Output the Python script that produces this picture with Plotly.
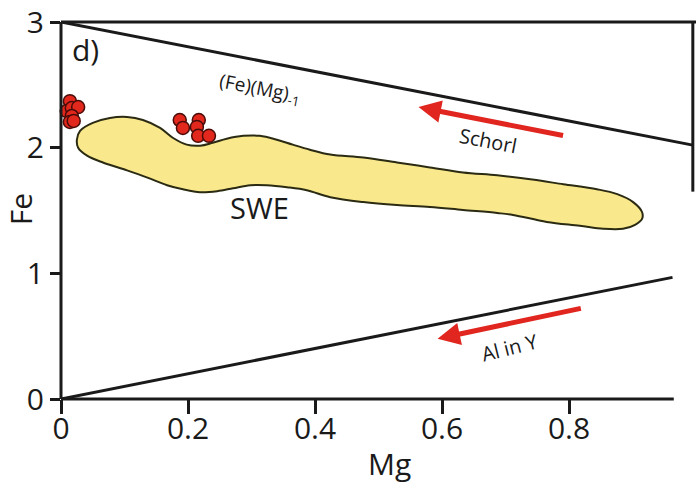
import plotly.graph_objects as go

# --- data ---
dots_mg = [0.014, 0.009, 0.017, 0.027, 0.017, 0.014, 0.020,
           0.187, 0.192, 0.217, 0.214, 0.216, 0.233]
dots_fe = [2.370, 2.291, 2.315, 2.323, 2.252, 2.205, 2.213,
           2.220, 2.157, 2.220, 2.165, 2.094, 2.094]

swe_mg = [0.025, 0.030, 0.050, 0.077, 0.104, 0.129, 0.156, 0.176, 0.198, 0.219,
          0.239, 0.261, 0.287, 0.313, 0.340, 0.365, 0.392, 0.424, 0.476, 0.529,
          0.581, 0.633, 0.687, 0.739, 0.791, 0.844, 0.876, 0.901, 0.915, 0.915,
          0.904, 0.885, 0.854, 0.817, 0.765, 0.712, 0.687, 0.633, 0.581, 0.529,
          0.476, 0.424, 0.387, 0.356, 0.324, 0.298, 0.271, 0.246, 0.219, 0.192,
          0.167, 0.135, 0.104, 0.066, 0.041, 0.027]
swe_fe = [2.063, 2.134, 2.197, 2.236, 2.244, 2.220, 2.157, 2.079, 2.024, 2.016,
          2.039, 2.071, 2.094, 2.094, 2.063, 2.024, 1.984, 1.945, 1.921, 1.882,
          1.843, 1.803, 1.780, 1.748, 1.709, 1.669, 1.630, 1.567, 1.488, 1.433,
          1.386, 1.354, 1.354, 1.378, 1.409, 1.465, 1.480, 1.504, 1.528, 1.543,
          1.567, 1.606, 1.661, 1.685, 1.701, 1.701, 1.677, 1.654, 1.646, 1.669,
          1.701, 1.764, 1.819, 1.882, 1.937, 2.000]

upper_line_mg = [0.0, 0.995]
upper_line_fe = [3.0, 2.02]
lower_line_mg = [0.0, 0.963]
lower_line_fe = [0.0, 0.968]

schorl_arrow = {"tail": (0.793, 2.094), "head": (0.563, 2.323)}
aliny_arrow = {"tail": (0.821, 0.724), "head": (0.593, 0.480)}

x_ticks = [0, 0.2, 0.4, 0.6, 0.8]
x_ticklabels = ["0", "0.2", "0.4", "0.6", "0.8"]
y_ticks = [0, 1, 2, 3]
y_ticklabels = ["0", "1", "2", "3"]

FONT = "Open Sans"
BLACK = "#1a1a1a"
RED = "#e0261e"

fig = go.Figure()

fig.add_trace(go.Scatter(
    x=swe_mg + [swe_mg[0]], y=swe_fe + [swe_fe[0]],
    mode="lines", fill="toself", fillcolor="#f9e98c",
    line=dict(color="#2b2a12", width=2, shape="spline", smoothing=1.0),
    hoverinfo="skip", showlegend=False))

fig.add_trace(go.Scatter(x=upper_line_mg, y=upper_line_fe, mode="lines",
                         line=dict(color=BLACK, width=3), showlegend=False))
fig.add_trace(go.Scatter(x=lower_line_mg, y=lower_line_fe, mode="lines",
                         line=dict(color=BLACK, width=3), showlegend=False))

fig.add_trace(go.Scatter(
    x=dots_mg, y=dots_fe, mode="markers",
    marker=dict(size=13, color="#e2271d", line=dict(color="#4a0c08", width=1.5)),
    showlegend=False, cliponaxis=False))

# frame
frame = dict(color=BLACK, width=3)
fig.add_shape(type="line", xref="paper", yref="paper", x0=0, x1=1, y0=1, y1=1, line=frame)
fig.add_shape(type="line", xref="paper", yref="paper", x0=0, x1=0, y0=0, y1=1, line=frame)
fig.add_shape(type="line", xref="paper", yref="paper", x0=0, x1=0.965, y0=0, y1=0, line=frame)
fig.add_shape(type="line", xref="paper", yref="paper", x0=0.995, x1=0.995, y0=1, y1=0.55, line=frame)

# arrows
for arr in (schorl_arrow, aliny_arrow):
    fig.add_annotation(x=arr["head"][0], y=arr["head"][1], ax=arr["tail"][0], ay=arr["tail"][1],
                       xref="x", yref="y", axref="x", ayref="y", text="",
                       showarrow=True, arrowhead=2, arrowsize=0.9, arrowwidth=5, arrowcolor=RED)

def txt(x, y, s, size, angle=0, ref="data"):
    r = ("x", "y") if ref == "data" else ("paper", "paper")
    fig.add_annotation(x=x, y=y, xref=r[0], yref=r[1], text=s, showarrow=False,
                       xanchor="center", yanchor="middle",
                       textangle=angle, font=dict(family=FONT, size=size, color=BLACK))

txt(0.038, 2.78, "d)", 30)
txt(0.313, 2.47, "(Fe)(Mg)<sub>-1</sub>", 19, 11)
txt(0.672, 2.055, "Schorl", 20, 11)
txt(0.707, 0.409, "Al in Y", 20, -14)
txt(0.312, 1.52, "SWE", 29)
txt(0.518, -0.170, "Mg", 30, ref="paper")
txt(-0.0646, 0.503, "Fe", 30, -90, ref="paper")

fig.update_xaxes(range=[0, 1], tickvals=x_ticks, ticktext=x_ticklabels,
                 showgrid=False, zeroline=False, showline=False,
                 ticks="outside", ticklen=14, tickwidth=3, tickcolor=BLACK,
                 ticklabelstandoff=-11,
                 tickfont=dict(family=FONT, size=30, color=BLACK))
fig.update_yaxes(range=[0, 3], tickvals=y_ticks, ticktext=y_ticklabels,
                 showgrid=False, zeroline=False, showline=False,
                 ticks="outside", ticklen=10, tickwidth=3, tickcolor=BLACK,
                 ticklabeloverflow="allow",
                 tickfont=dict(family=FONT, size=30, color=BLACK))

fig.update_layout(width=696, height=487, margin=dict(l=61, r=0, t=18, b=88),
                  plot_bgcolor="white", paper_bgcolor="white", showlegend=False)

fig.write_html("out.html")
